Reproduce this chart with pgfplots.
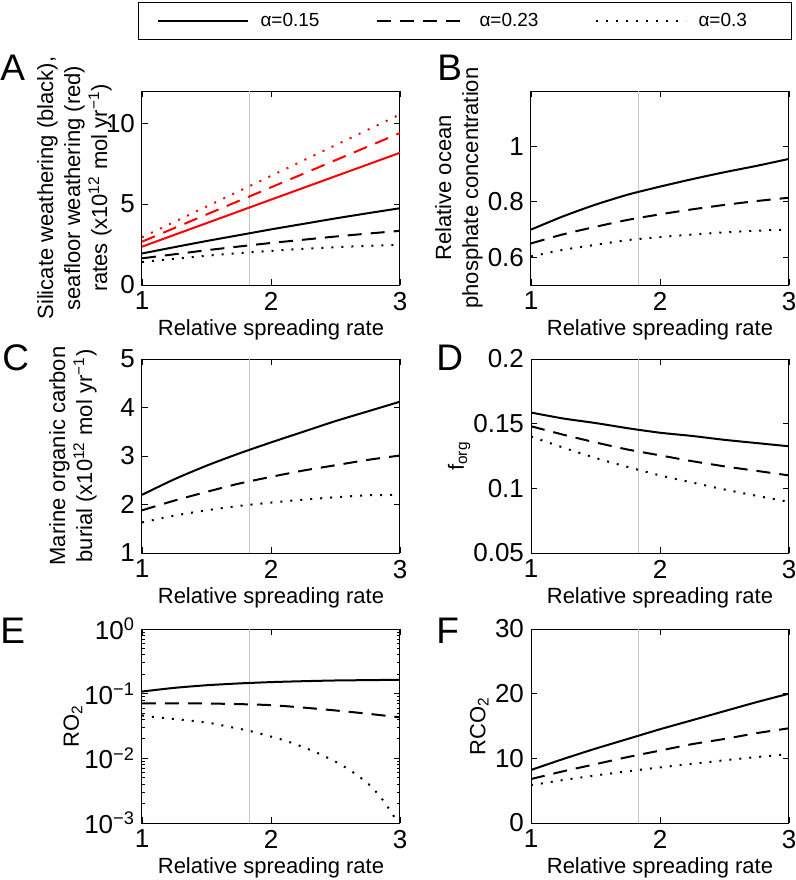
\documentclass[border=0pt]{standalone}
\usepackage{fontspec}
\setmainfont{Liberation Sans}
\usepackage{pgfplots}
\pgfplotsset{compat=1.18}
\newcommand\ticksize{\fontsize{13}{13}\selectfont}
\newcommand\labsize{\fontsize{11}{13.5}\selectfont}
\newcommand\legsize{\fontsize{9.5}{10}\selectfont}
\newcommand\letsize{\fontsize{18.5}{18.5}\selectfont}
\pgfplotsset{
  /pgf/number format/assume math mode=true,
  panel/.style={
    width=129pt, height=97pt, scale only axis,
    xmin=1, xmax=3, xtick={1,2,3},
    tick align=inside, major tick length=3pt, minor tick length=1.6pt,
    axis line style={line width=0.5pt},
    every tick/.style={black, line width=0.4pt},
    tick label style={font=\ticksize},
    label style={font=\labsize},
    xlabel={Relative spreading rate},
    xlabel style={at={(axis description cs:0.5,-0.175)}, anchor=north, inner sep=0pt},
    ylabel style={anchor=south, inner sep=0pt, align=center},
    anchor=north west,
  },
  ylabpos/.style={ylabel style={at={(axis description cs:#1,0.5)}}},
  sol/.style={black, line width=1pt, smooth, tension=0.4},
  das/.style={black, line width=1pt, smooth, tension=0.4, dash pattern=on 7pt off 4.5pt},
  dot/.style={black, line width=1pt, smooth, tension=0.4, dash pattern=on 1pt off 4pt},
  vline/.style={black!22, line width=0.5pt, forget plot},
}
\begin{document}
\begin{tikzpicture}
\useasboundingbox (0pt,0pt) rectangle (398pt,-440pt);

% A
\begin{axis}[panel, at={(71pt,-45.5pt)},
  ymin=0, ymax=12, ytick={0,5,10},
  ylabpos=-0.116,
  ylabel={Silicate weathering (black),\\seafloor weathering (red)\\rates (x10\textsuperscript{12} mol yr\textsuperscript{−1})},
  legend columns=3,
  legend image code/.code={\path (-6.5pt,0pt); \draw[#1] (0pt,0pt) -- (45pt,0pt);},
  legend style={at={(axis description cs:1.252,1.361)}, anchor=center,
    draw=black, line width=0.5pt, fill=white, font=\legsize,
    inner xsep=2.5pt, inner ysep=5pt,
    nodes={inner sep=0pt, text width=44pt},
    /tikz/every odd column/.append style={column sep=6pt},
    /tikz/every even column/.append style={column sep=7pt}},
  legend cell align=left,
]
\addplot[vline] coordinates {(1.83,0) (1.83,12)};
\addplot[sol] coordinates {(1,1.95) (1.25,2.34) (1.5,2.72) (1.75,3.08) (2,3.44) (2.25,3.78) (2.5,4.12) (2.75,4.44) (3,4.75)};
\addplot[das] coordinates {(1,1.65) (1.25,1.90) (1.5,2.15) (1.75,2.38) (2,2.60) (2.25,2.80) (2.5,3.00) (2.75,3.18) (3,3.35)};
\addplot[dot] coordinates {(1,1.42) (1.25,1.62) (1.5,1.81) (1.75,1.97) (2,2.11) (2.25,2.24) (2.5,2.34) (2.75,2.42) (3,2.48)};
\addplot[sol, red, forget plot] coordinates {(1,2.37) (2,5.28) (3,8.18)};
\addplot[das, red, forget plot] coordinates {(1,2.68) (2,6.04) (3,9.40)};
\addplot[dot, red, forget plot] coordinates {(1,2.95) (2,6.75) (3,10.55)};
\legend{α=0.15, α=0.23, α=0.3}
\end{axis}

% B
\begin{axis}[panel, at={(265.5pt,-45.5pt)},
  ymin=0.5, ymax=1.2, ytick={0.6,0.8,1}, yticklabels={0.6,0.8,1},
  ylabpos=-0.186,
  ylabel={Relative ocean\\phosphate concentration},
]
\addplot[vline] coordinates {(1.83,0.5) (1.83,1.2)};
\addplot[sol] coordinates {(1,0.700) (1.25,0.748) (1.5,0.790) (1.75,0.826) (2,0.855) (2.25,0.882) (2.5,0.907) (2.75,0.930) (3,0.955)};
\addplot[das] coordinates {(1,0.650) (1.25,0.683) (1.5,0.710) (1.75,0.735) (2,0.755) (2.25,0.773) (2.5,0.789) (2.75,0.803) (3,0.815)};
\addplot[dot] coordinates {(1,0.603) (1.25,0.627) (1.5,0.645) (1.75,0.662) (2,0.673) (2.25,0.682) (2.5,0.690) (2.75,0.696) (3,0.700)};
\end{axis}

% C
\begin{axis}[panel, at={(71pt,-179.5pt)},
  ymin=1, ymax=5, ytick={1,2,3,4,5},
  ylabpos=-0.174,
  ylabel={Marine organic carbon\\burial (x10\textsuperscript{12} mol yr\textsuperscript{−1})},
]
\addplot[vline] coordinates {(1.83,1) (1.83,5)};
\addplot[sol] coordinates {(1,2.20) (1.25,2.52) (1.5,2.80) (1.75,3.05) (2,3.28) (2.25,3.50) (2.5,3.72) (2.75,3.92) (3,4.12)};
\addplot[das] coordinates {(1,1.88) (1.25,2.08) (1.5,2.26) (1.75,2.43) (2,2.57) (2.25,2.70) (2.5,2.81) (2.75,2.92) (3,3.01)};
\addplot[dot] coordinates {(1,1.63) (1.25,1.77) (1.5,1.88) (1.75,1.97) (2,2.04) (2.25,2.10) (2.5,2.15) (2.75,2.19) (3,2.20)};
\end{axis}

% D
\begin{axis}[panel, at={(265.5pt,-179.5pt)},
  ymin=0.05, ymax=0.2, ytick={0.05,0.1,0.15,0.2}, yticklabels={0.05,0.1,0.15,0.2},
  ylabpos=-0.234,
  ylabel={f\textsubscript{org}},
]
\addplot[vline] coordinates {(1.83,0.05) (1.83,0.2)};
\addplot[sol] coordinates {(1,0.1586) (1.25,0.1540) (1.5,0.1505) (1.75,0.1465) (2,0.1430) (2.25,0.1405) (2.5,0.1375) (2.75,0.1350) (3,0.1325)};
\addplot[das] coordinates {(1,0.1480) (1.25,0.1415) (1.5,0.1355) (1.75,0.1300) (2,0.1255) (2.25,0.1210) (2.5,0.1170) (2.75,0.1135) (3,0.1100)};
\addplot[dot] coordinates {(1,0.1400) (1.25,0.1315) (1.5,0.1235) (1.75,0.1165) (2,0.1100) (2.25,0.1045) (2.5,0.0991) (2.75,0.0942) (3,0.0896)};
\end{axis}

% E
\begin{axis}[panel, at={(71pt,-314.5pt)},
  ymode=log, ymin=1e-3, ymax=1, ytick={1e-3,1e-2,1e-1,1},
  yticklabels={10\textsuperscript{−3},10\textsuperscript{−2},10\textsuperscript{−1},10\textsuperscript{0}},
  ylabpos=-0.23,
  ylabel={RO\textsubscript{2}},
]
\addplot[vline] coordinates {(1.83,1e-3) (1.83,1)};
\addplot[sol] coordinates {(1,0.108) (1.25,0.123) (1.5,0.135) (1.75,0.144) (2,0.151) (2.25,0.156) (2.5,0.160) (2.75,0.162) (3,0.164)};
\addplot[das] coordinates {(1,0.071) (1.25,0.071) (1.5,0.0705) (1.75,0.069) (2,0.0665) (2.25,0.061) (2.5,0.055) (2.75,0.049) (3,0.043)};
\addplot[dot] coordinates {(1,0.046) (1.07,0.0441) (1.225,0.0411) (1.376,0.0383) (1.526,0.0352) (1.674,0.0308) (1.829,0.0267) (1.969,0.0226) (2.114,0.0187) (2.254,0.0148) (2.394,0.0113) (2.528,0.0083) (2.658,0.00569) (2.772,0.00375) (2.873,0.00219) (2.956,0.00124) (3,0.00095)};
\end{axis}

% F
\begin{axis}[panel, at={(265.5pt,-314.5pt)},
  ymin=0, ymax=30, ytick={0,10,20,30},
  ylabpos=-0.163,
  ylabel={RCO\textsubscript{2}},
]
\addplot[vline] coordinates {(1.83,0) (1.83,30)};
\addplot[sol] coordinates {(1,8.2) (1.25,9.9) (1.5,11.5) (1.75,13.0) (2,14.5) (2.25,15.9) (2.5,17.3) (2.75,18.7) (3,20.0)};
\addplot[das] coordinates {(1,6.8) (1.25,8.0) (1.5,9.1) (1.75,10.2) (2,11.2) (2.25,12.2) (2.5,13.0) (2.75,13.9) (3,14.65)};
\addplot[dot] coordinates {(1,5.85) (1.25,6.65) (1.5,7.35) (1.75,8.0) (2,8.6) (2.25,9.15) (2.5,9.7) (2.75,10.2) (3,10.65)};
\end{axis}

% panel letters
\node[anchor=base west, font=\letsize, inner sep=0pt] at (0pt,-40pt) {A};
\node[anchor=base west, font=\letsize, inner sep=0pt] at (218.5pt,-40pt) {B};
\node[anchor=base west, font=\letsize, inner sep=0pt] at (1pt,-185pt) {C};
\node[anchor=base west, font=\letsize, inner sep=0pt] at (218pt,-185pt) {D};
\node[anchor=base west, font=\letsize, inner sep=0pt] at (0pt,-321.5pt) {E};
\node[anchor=base west, font=\letsize, inner sep=0pt] at (218pt,-321.5pt) {F};
\end{tikzpicture}
\end{document}
